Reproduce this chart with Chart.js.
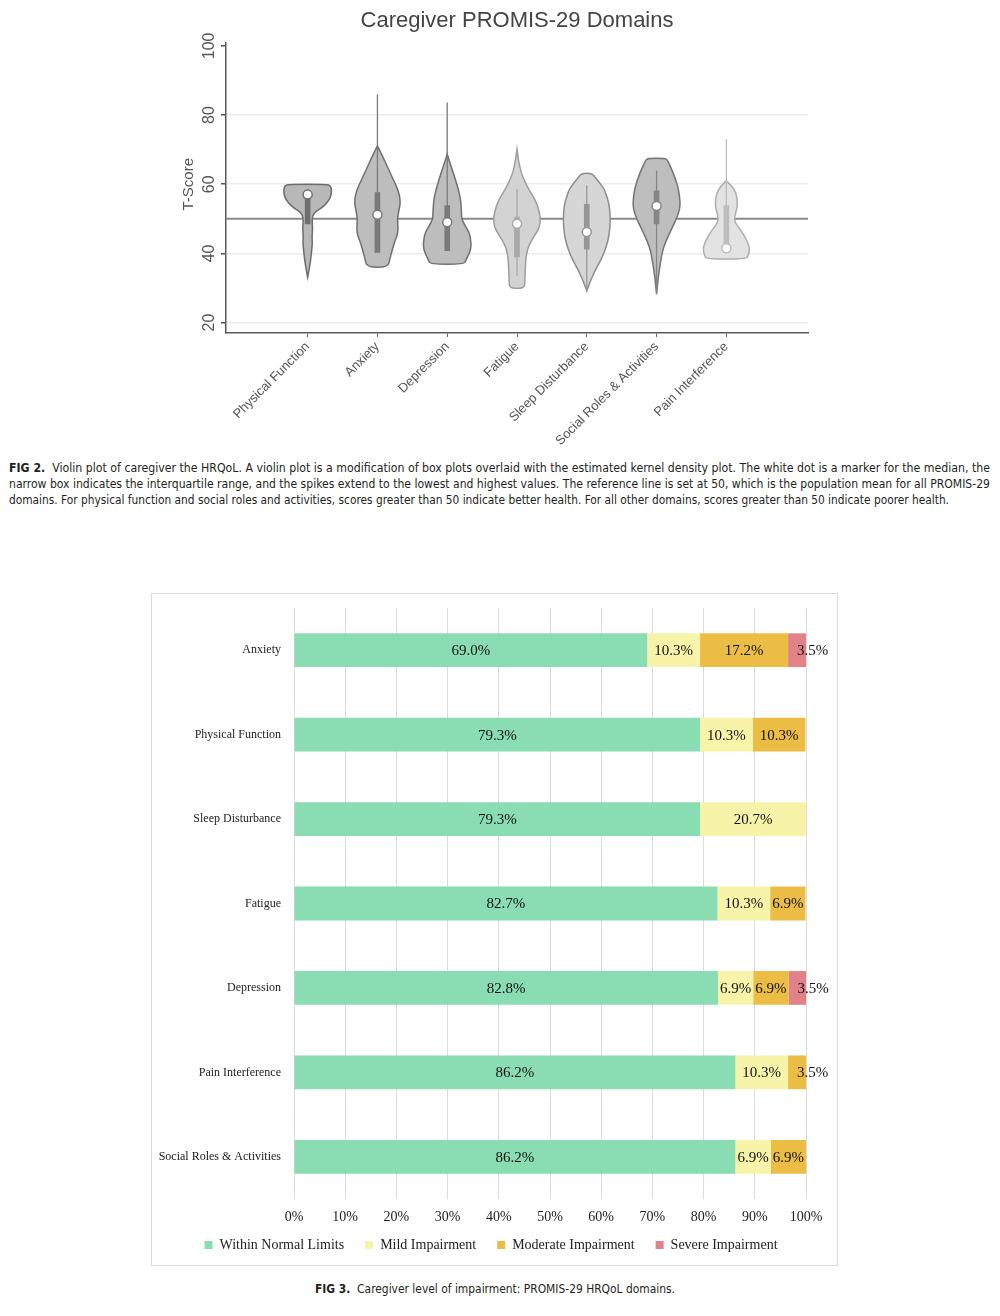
<!DOCTYPE html>
<html>
<head>
<meta charset="utf-8">
<script src="https://cdn.jsdelivr.net/npm/chart.js@4.4.1/dist/chart.umd.min.js"></script>
<style>
body { margin: 0; background: #fff; width: 1000px; height: 1316px; position: relative; overflow: hidden; }
#violinWrap { position: absolute; left: 0; top: 0; width: 1000px; height: 450px; }
#barWrap { position: absolute; left: 151px; top: 593px; width: 687px; height: 673px; border: 1px solid #dadada; box-sizing: border-box; }
.cap { position: absolute; left: 9px; font-family: "Liberation Sans Narrow", "DejaVu Sans Condensed", "Roboto", sans-serif; font-size: 13px; color: #231f20; white-space: nowrap; transform-origin: 0 0; line-height: 16px; }
</style>
</head>
<body>
<div id="violinWrap"><canvas id="violinChart" width="1000" height="450"></canvas></div>

<span class="cap fit" data-w="981" style="top:460px"><b>FIG 2.</b>&nbsp; Violin plot of caregiver the HRQoL. A violin plot is a modification of box plots overlaid with the estimated kernel density plot. The white dot is a marker for the median, the</span>
<span class="cap fit" data-w="981" style="top:476px">narrow box indicates the interquartile range, and the spikes extend to the lowest and highest values. The reference line is set at 50, which is the population mean for all PROMIS-29</span>
<span class="cap fit" data-w="940" style="top:492px">domains. For physical function and social roles and activities, scores greater than 50 indicate better health. For all other domains, scores greater than 50 indicate poorer health.</span>

<div id="barWrap"><canvas id="barChart" width="685" height="671"></canvas></div>

<span class="cap fit" data-w="360" style="top:1281px; left:315px"><b>FIG 3.</b>&nbsp; Caregiver level of impairment: PROMIS-29 HRQoL domains.</span>

<script>
// ---- Fig 2 data: violin plot ----
const domains = ['Physical Function', 'Anxiety', 'Depression', 'Fatigue', 'Sleep Disturbance', 'Social Roles & Activities', 'Pain Interference'];
const medians = [57, 51.2, 49, 48.6, 46.2, 53.7, 41.5];
const q1 = [48.5, 40.3, 40.8, 39, 41.2, 48.5, 41.5];
const q3 = [57, 57.6, 53.8, 50.5, 54.2, 58.1, 53.8];
const lowest = [48.5, 40.3, 40.8, 33.5, 29.5, 28.5, 41.5];
const highest = [57, 86, 83.6, 58.6, 59.6, 63.9, 73];
const refLine = 50;
const tScoreTicks = [20, 40, 60, 80, 100];

// kernel density, [T-score, relative half width], top to bottom
const densPhysical = [[60, 0.80], [59.6, 0.95], [58.5, 1.0], [56.5, 0.98], [54.5, 0.80], [53, 0.55], [52, 0.32], [51, 0.22], [50, 0.19], [48.5, 0.19], [47, 0.21], [45, 0.18], [43, 0.2], [41, 0.17], [39, 0.14], [37, 0.10], [35, 0.05], [33.1, 0]];
const densAnxiety = [[71.1, 0], [68, 0.22], [64.4, 0.46], [61.5, 0.65], [59.5, 0.79], [57, 0.92], [54.7, 0.96], [52.5, 0.9], [50, 0.83], [47, 0.87], [45, 0.82], [43.2, 0.71], [40.5, 0.6], [38.4, 0.52], [36, 0.44]];
const densDepression = [[68.7, 0], [66, 0.12], [63.4, 0.25], [60.5, 0.38], [58.6, 0.46], [56, 0.55], [53.8, 0.58], [51.5, 0.6], [50, 0.6], [48, 0.75], [46.1, 0.92], [44, 0.98], [42.2, 1.0], [40.5, 0.95], [39.3, 0.87], [38, 0.78], [36.9, 0.70]];
const densFatigue = [[70.1, 0], [68, 0.04], [66.3, 0.08], [63.5, 0.17], [61.5, 0.28], [59, 0.45], [56.6, 0.67], [54.5, 0.82], [52.8, 0.9], [51, 0.96], [49, 0.98], [47, 0.9], [45.1, 0.73], [43, 0.55], [41.2, 0.44], [39, 0.38], [37.4, 0.36], [34.5, 0.34], [31.6, 0.33], [29.9, 0.3]];
const densSleep = [[63.2, 0.2], [62, 0.35], [60, 0.58], [58.6, 0.73], [56, 0.86], [53.8, 0.94], [51.5, 0.97], [49, 0.98], [46.5, 0.95], [44.1, 0.9], [41.5, 0.79], [39.3, 0.67], [37, 0.5], [34.5, 0.31], [32, 0.15], [29.2, 0]];
const densSocial = [[67.5, 0.35], [67, 0.45], [64.5, 0.62], [61.5, 0.79], [59, 0.9], [56.6, 0.96], [53.8, 0.99], [52, 0.93], [50, 0.83], [47.5, 0.66], [45.1, 0.49], [42, 0.3], [39.3, 0.21], [36, 0.13], [33.5, 0.08], [31, 0.04], [28.2, 0]];
const densPain = [[61, 0], [59.5, 0.22], [57.6, 0.4], [55.5, 0.45], [53.8, 0.46], [52, 0.4], [50, 0.33], [48.5, 0.4], [47, 0.57], [45.5, 0.72], [44.1, 0.83], [42.5, 0.93], [41.2, 0.97], [39.5, 0.92], [38.4, 0.83]];
const densities = [densPhysical, densAnxiety, densDepression, densFatigue, densSleep, densSocial, densPain];

// ---- Fig 3 data: stacked bars ----
const impairDomains = ['Anxiety', 'Physical Function', 'Sleep Disturbance', 'Fatigue', 'Depression', 'Pain Interference', 'Social Roles & Activities'];
const withinNormal = [69.0, 79.3, 79.3, 82.7, 82.8, 86.2, 86.2];
const mildImp = [10.3, 10.3, 20.7, 10.3, 6.9, 10.3, 6.9];
const moderateImp = [17.2, 10.3, 0, 6.9, 6.9, 3.5, 6.9];
const severeImp = [3.5, 0, 0, 0, 3.5, 0, 0];

// styles
const violinFill = ['#b8b8b8', '#bdbdbd', '#bdbdbd', '#d3d3d3', '#d6d6d6', '#bebebe', '#e3e3e3'];
const violinEdge = ['#6c6c6c', '#707070', '#707070', '#9e9e9e', '#8c8c8c', '#747474', '#adadad'];
const boxColor = ['#6f6f6f', '#7a7a7a', '#7a7a7a', '#a9a9a9', '#969696', '#858585', '#bdbdbd'];
const VIOLIN_HALF = 24 / 70;
const SANS = '"Liberation Sans", Arial, sans-serif';
const SERIF = '"Liberation Serif", "Times New Roman", serif';

function smoothClosed(ctx, pts) {
    const n = pts.length;
    const mid = (a, b) => [(a[0] + b[0]) / 2, (a[1] + b[1]) / 2];
    let start = mid(pts[n - 1], pts[0]);
    ctx.beginPath();
    ctx.moveTo(start[0], start[1]);
    for (let i = 0; i < n; i++) {
        const m = mid(pts[i], pts[(i + 1) % n]);
        ctx.quadraticCurveTo(pts[i][0], pts[i][1], m[0], m[1]);
    }
    ctx.closePath();
}

const violinPlugin = {
    id: 'violins',
    beforeDatasetsDraw(chart) {
        const { ctx, chartArea } = chart;
        const x = chart.scales.x, y = chart.scales.y;
        ctx.save();
        const ry = y.getPixelForValue(refLine);
        ctx.strokeStyle = '#8a8a8a';
        ctx.lineWidth = 2;
        ctx.beginPath();
        ctx.moveTo(chartArea.left, ry);
        ctx.lineTo(chartArea.right, ry);
        ctx.stroke();

        densities.forEach((dens, i) => {
            const right = dens.map(([t, d]) => [x.getPixelForValue(i + d * VIOLIN_HALF), y.getPixelForValue(t)]);
            const left = dens.map(([t, d]) => [x.getPixelForValue(i - d * VIOLIN_HALF), y.getPixelForValue(t)]).reverse();
            smoothClosed(ctx, right.concat(left));
            ctx.fillStyle = violinFill[i];
            ctx.fill();
            ctx.strokeStyle = violinEdge[i];
            ctx.lineWidth = 1.5;
            ctx.stroke();
        });
        ctx.restore();
    },
    afterDraw(chart) {
        const { ctx, chartArea } = chart;
        const y = chart.scales.y;
        ctx.save();
        ctx.fillStyle = '#555';
        ctx.textAlign = 'center';
        ctx.textBaseline = 'middle';
        ctx.font = '16px ' + SANS;
        tScoreTicks.forEach(t => {
            ctx.save();
            ctx.translate(chartArea.left - 16, y.getPixelForValue(t));
            ctx.rotate(-Math.PI / 2);
            ctx.fillText(String(t), 0, 0);
            ctx.restore();
        });
        ctx.font = '15px ' + SANS;
        ctx.translate(chartArea.left - 37, y.getPixelForValue(60));
        ctx.rotate(-Math.PI / 2);
        ctx.fillText('T-Score', 0, 0);
        ctx.restore();
    }
};

const whiskerSets = domains.map((d, i) => ({
    type: 'line',
    label: d + ' range',
    data: [{ x: i, y: lowest[i] }, { x: i, y: highest[i] }],
    borderColor: boxColor[i],
    borderWidth: 1.3,
    pointRadius: 0,
    order: 3
}));

new Chart(document.getElementById('violinChart'), {
    type: 'scatter',
    data: {
        datasets: [
            {
                type: 'scatter',
                label: 'Median',
                data: medians.map((m, i) => ({ x: i, y: m })),
                pointRadius: 4.5,
                pointBackgroundColor: '#ffffff',
                pointBorderColor: boxColor,
                pointBorderWidth: 1.5,
                order: 1
            },
            {
                type: 'bar',
                label: 'IQR',
                data: domains.map((d, i) => ({ x: i, y: [q1[i], q3[i]] })),
                backgroundColor: boxColor,
                barThickness: 5,
                grouped: false,
                order: 2
            },
            ...whiskerSets
        ]
    },
    options: {
        responsive: false,
        animation: false,
        layout: { padding: { left: 226, right: 192, top: 0, bottom: 0 } },
        plugins: {
            legend: { display: false },
            tooltip: { enabled: false },
            title: {
                display: true,
                text: 'Caregiver PROMIS-29 Domains',
                color: '#444',
                font: { family: SANS, size: 22, weight: 'normal', lineHeight: 1.2 },
                padding: { top: 8, bottom: 8 }
            }
        },
        scales: {
            x: {
                type: 'linear',
                offset: false,
                min: -1.17,
                max: 7.17,
                afterBuildTicks: s => { s.ticks = domains.map((d, i) => ({ value: i })); },
                afterFit: s => { s.height = 117; },
                ticks: {
                    autoSkip: false,
                    minRotation: 45,
                    maxRotation: 45,
                    padding: 2,
                    color: '#555',
                    font: { family: SANS, size: 13 },
                    callback: v => domains[v]
                },
                grid: { offset: false, drawOnChartArea: false, drawTicks: true, tickLength: 4, color: '#666' },
                border: { display: true, color: '#5a5a5a', width: 1.5 }
            },
            y: {
                min: 17,
                max: 101,
                afterFit: s => { s.width = 0; },
                ticks: { stepSize: 20, includeBounds: false, display: false },
                grid: {
                    color: c => (c.tick && c.tick.value === 100) ? 'rgba(0,0,0,0)' : '#ececec',
                    lineWidth: 1.5,
                    tickColor: '#555',
                    tickLength: 5
                },
                border: { display: true, color: '#5a5a5a', width: 1.5 }
            }
        }
    },
    plugins: [violinPlugin]
});

// ---- Fig 3 chart ----
const barLabels = {
    id: 'barLabels',
    afterLayout(chart) {
        // centre the legend on the whole frame, not on the padded area
        const shift = chart.options.layout.padding.right / 2;
        chart.legend.left += shift;
        chart.legend.right += shift;
    },
    afterDatasetsDraw(chart) {
        const { ctx } = chart;
        ctx.save();
        ctx.font = '15px ' + SERIF;
        ctx.fillStyle = '#111';
        ctx.textAlign = 'center';
        ctx.textBaseline = 'middle';
        chart.data.datasets.forEach((ds, di) => {
            const meta = chart.getDatasetMeta(di);
            meta.data.forEach((bar, j) => {
                const v = ds.data[j];
                if (!v) return;
                const txt = v.toFixed(1) + '%';
                const w = ctx.measureText(txt).width;
                const { x: xEnd, base: xStart, y } = bar.getProps(['x', 'base', 'y'], true);
                let cx = (xStart + xEnd) / 2;
                if (w + 4 > xEnd - xStart) cx = xStart + 9 + w / 2;
                ctx.fillText(txt, cx, y + 1);
            });
        });
        ctx.restore();
    }
};

const seg = (label, data, color) => ({
    label: label,
    data: data,
    backgroundColor: color,
    borderWidth: 0,
    barPercentage: 0.4,
    categoryPercentage: 1
});

new Chart(document.getElementById('barChart'), {
    type: 'bar',
    data: {
        labels: impairDomains,
        datasets: [
            seg('Within Normal Limits', withinNormal, '#8adcb2'),
            seg('Mild Impairment', mildImp, '#f7f4aa'),
            seg('Moderate Impairment', moderateImp, '#ecbd44'),
            seg('Severe Impairment', severeImp, '#e08288')
        ]
    },
    options: {
        indexAxis: 'y',
        responsive: false,
        animation: false,
        layout: { padding: { left: 0, right: 31, top: 14, bottom: 3 } },
        plugins: {
            tooltip: { enabled: false },
            legend: {
                position: 'bottom',
                labels: {
                    boxWidth: 8,
                    boxHeight: 8,
                    padding: 14,
                    color: '#222',
                    font: { family: SERIF, size: 14 },
                    // a little extra room after each entry, as in the printed legend
                    generateLabels: chart => Chart.defaults.plugins.legend.labels.generateLabels(chart)
                        .map(item => Object.assign(item, { text: item.text + '\u2002' }))
                }
            }
        },
        scales: {
            x: {
                stacked: true,
                min: 0,
                max: 100,
                afterFit: s => { s.height = 25; },
                ticks: { stepSize: 10, padding: 10, color: '#222', font: { family: SERIF, size: 14 }, callback: v => v + '%' },
                grid: { color: '#dcdcdc', drawTicks: false },
                border: { display: false }
            },
            y: {
                stacked: true,
                afterFit: s => { s.width = 142; },
                ticks: { padding: 5, color: '#222', font: { family: SERIF, size: 12 } },
                grid: { display: false },
                border: { display: false }
            }
        }
    },
    plugins: [barLabels]
});

// fit caption lines to the printed widths
document.querySelectorAll('.fit').forEach(el => {
    el.style.display = 'inline-block';
    const w = el.getBoundingClientRect().width;
    el.style.transform = 'scaleX(' + (el.dataset.w / w) + ')';
});
</script>
</body>
</html>
